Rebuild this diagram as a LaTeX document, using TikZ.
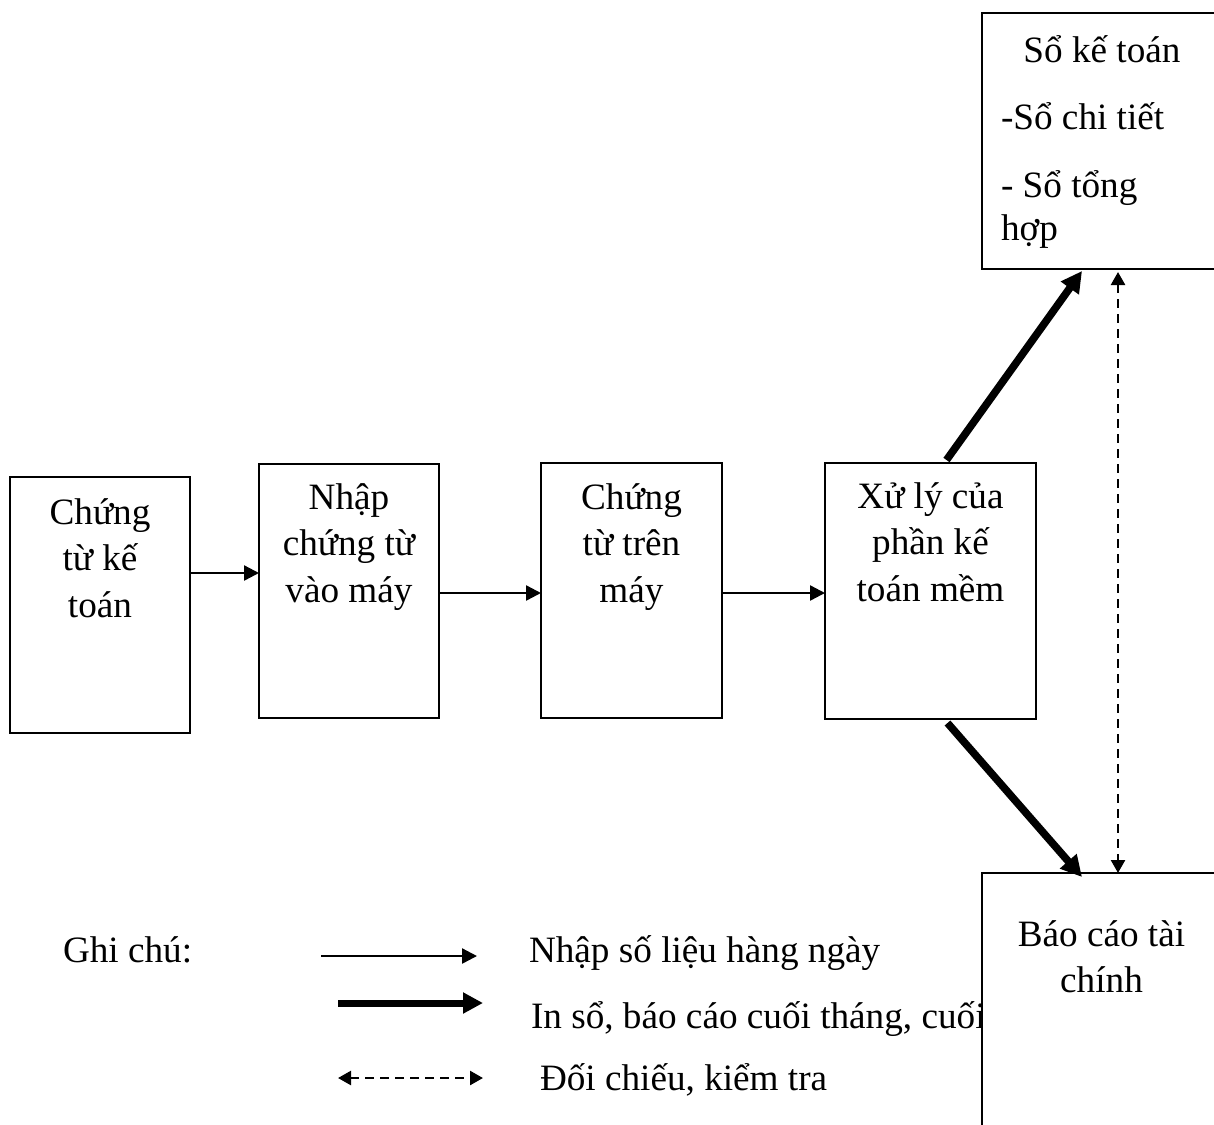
\documentclass[tikz,border=0pt]{standalone}
\usepackage{fontspec}
\setmainfont{Liberation Serif}
\usetikzlibrary{arrows.meta,calc}

\begin{document}
\begin{tikzpicture}[x=0.5pt,y=-0.5pt,
  box/.style={draw, line width=1pt, fill=white, inner sep=0pt, outer sep=0pt},
  txt/.style={inner sep=0pt, outer sep=0pt, font=\fontsize{18.6pt}{23.25pt}\selectfont},
  flow/.style={line width=1.2pt, -{Triangle[length=7.5pt,width=7.5pt]}},
  bold/.style={line width=3.8pt, -{Triangle[length=10.5pt,width=10.5pt]}},
  check/.style={line width=1.2pt, dash pattern=on 4.5pt off 3pt,
    {Triangle[length=6.5pt,width=7pt]}-{Triangle[length=6.5pt,width=7pt]}},
]
\path[use as bounding box] (0,0) rectangle (1214,1124);
\clip (0,0) rectangle (1214,1124);

% process chain
\node[box, minimum width=90pt, minimum height=128pt] (b1) at (100,605) {};
\node[box, minimum width=90pt, minimum height=127pt] (b2) at (349,591) {};
\node[box, minimum width=90.5pt, minimum height=127.5pt] (b3) at (631.5,590.5) {};
\node[box, minimum width=105.5pt, minimum height=128pt] (b4) at (930.5,591) {};

\node[txt, anchor=base] (t1) at ($(b1.north)+(0,47)$)
  {\parbox[t]{85pt}{\centering Chứng\\từ kế\\toán}};
\node[txt, anchor=base] (t2) at ($(b2.north)+(0,45)$)
  {\parbox[t]{85pt}{\centering Nhập\\chứng từ\\vào máy}};
\node[txt, anchor=base] (t3) at ($(b3.north)+(0,46)$)
  {\parbox[t]{85pt}{\centering Chứng\\từ trên\\máy}};
\node[txt, anchor=base] (t4) at ($(b4.north)+(0,45)$)
  {\parbox[t]{100pt}{\centering Xử lý của\\phần kế\\toán mềm}};

% output: ledgers
\node[box, minimum width=119.5pt, minimum height=128pt] (sk) at (1101.5,141) {};
\node[txt, anchor=base west, font=\fontsize{18.6pt}{21.5pt}\selectfont] (tsk)
  at ($(sk.north west)+(19,49)$)
  {\parbox[t]{101pt}{\raggedright\makebox[101pt][c]{Sổ kế toán}\\[12pt]-Sổ chi tiết\\[12.5pt]- Sổ tổng\\hợp}};

% legend
\node[txt, anchor=base west] (g0) at (63,962) {Ghi chú:};
\coordinate (l1s) at (321,956);  \coordinate (l1e) at (477,956);
\coordinate (l2s) at (338,1003); \coordinate (l2e) at (483,1003);
\coordinate (l3s) at (338,1078); \coordinate (l3e) at (483,1078);
\draw[flow] (l1s) -- (l1e);
\draw[line width=3.5pt, -{Triangle[length=10pt,width=10pt]}] (l2s) -- (l2e);
\draw[check] (l3s) -- (l3e);
\node[txt, anchor=base west] (g1) at (529,962) {Nhập số liệu hàng ngày};
\node[txt, anchor=base west] (g2) at (531,1028) {In sổ, báo cáo cuối tháng, cuối};
\node[txt, anchor=base west] (g3) at (540,1090) {Đối chiếu, kiểm tra};

% output: financial statements (drawn over the legend's long line)
\node[box, minimum width=119.5pt, minimum height=133.5pt] (bc) at (1101.5,1006.5) {};
\node[txt, anchor=base] (tbc) at ($(bc.north)+(0,73)$)
  {\parbox[t]{100pt}{\centering Báo cáo tài\\chính}};

% connectors
\draw[flow] ($(b1.east)+(0,-32)$) coordinate (a1) -- (a1 -| b2.west);
\draw[flow] ($(b2.east)+(0,2)$) coordinate (a2) -- (a2 -| b3.west);
\draw[flow] ($(b3.east)+(0,2.5)$) coordinate (a3) -- (a3 -| b4.west);
\draw[bold] ($(b4.north)+(16,-3)$) -- ($(sk.south west)+(100,2)$);
\draw[bold] ($(b4.south)+(17,4)$) -- ($(bc.north west)+(100,4)$);
\draw[check] ($(sk.south west)+(136,3)$) -- ($(bc.north west)+(136,0)$);
\end{tikzpicture}
\end{document}
